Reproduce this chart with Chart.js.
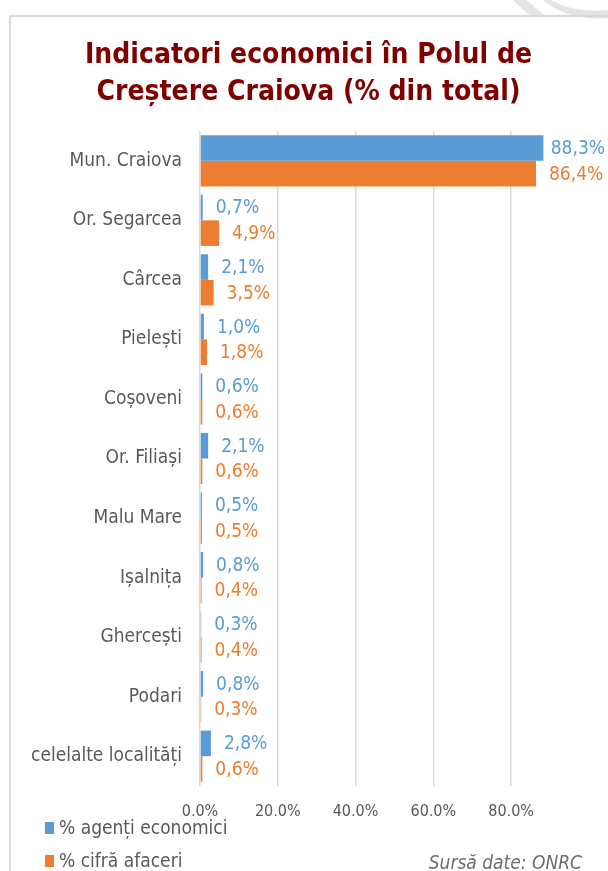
<!DOCTYPE html>
<html lang="ro">
<head>
<meta charset="utf-8">
<title>Indicatori economici în Polul de Creștere Craiova</title>
<script src="https://cdn.jsdelivr.net/npm/chart.js@4.4.0/dist/chart.umd.min.js"></script>
<style>
  html, body { margin: 0; padding: 0; background: #fff; }
  #wrap { position: relative; width: 608px; height: 871px; overflow: hidden; }
  #frame { position: absolute; left: 9px; top: 15px; width: 700px; height: 900px;
           border-left: 2px solid #d9d9d9; border-top: 2px solid #d9d9d9; }
  #deco { position: absolute; left: 0; top: 0; }
  canvas { position: absolute; left: 0; top: 0; }
</style>
</head>
<body>
<div id="wrap">
  <svg id="deco" width="608" height="20">
    <path d="M508,-4 L522,-4 L545,16 L531,16 Z" fill="#e4e4e4"/>
    <path d="M545,-4 Q570,14 608,10 L608,18 Q566,22 538,-4 Z" fill="#e4e4e4"/>
  </svg>
  <div id="frame"></div>
  <canvas id="barChart" width="608" height="871"></canvas>
</div>
<script>
// Indicatori pe localități (% din total)
const localitati = ['Mun. Craiova', 'Or. Segarcea', 'Cârcea', 'Pielești', 'Coșoveni', 'Or. Filiași',
                    'Malu Mare', 'Ișalnița', 'Ghercești', 'Podari', 'celelalte localități'];
const agentiEconomici = [88.3, 0.7, 2.1, 1.0, 0.6, 2.1, 0.5, 0.8, 0.3, 0.8, 2.8];
const cifraAfaceri = [86.4, 4.9, 3.5, 1.8, 0.6, 0.6, 0.5, 0.4, 0.4, 0.3, 0.6];
const axaProcente = [0, 20, 40, 60, 80];

const FONT = '"DejaVu Sans Condensed", "DejaVu Sans", sans-serif';
const GRI = '#595959';

const fmt = v => v.toFixed(1).replace('.', ',') + '%';

// titlul, etichetele valorilor, legenda și sursa
const decor = {
    id: 'decor',
    afterDatasetsDraw(chart) {
        const ctx = chart.ctx;
        ctx.save();
        ctx.font = '19px ' + FONT;
        ctx.textBaseline = 'middle';
        ctx.textAlign = 'left';
        chart.data.datasets.forEach((ds, i) => {
            const meta = chart.getDatasetMeta(i);
            ctx.fillStyle = ds.backgroundColor;
            meta.data.forEach((bar, j) => {
                const txt = fmt(ds.data[j]);
                const w = ctx.measureText(txt).width;
                const x = Math.min(bar.x + 13, chart.width - 3 - w);
                ctx.fillText(txt, x, bar.y + 1);
            });
        });
        ctx.restore();
    },
    afterDraw(chart) {
        const ctx = chart.ctx;
        ctx.save();
        // titlu
        ctx.fillStyle = '#800000';
        ctx.font = 'bold 28px ' + FONT;
        ctx.textAlign = 'center';
        ctx.textBaseline = 'alphabetic';
        ctx.fillText('Indicatori economici în Polul de', 308.5, 63);
        ctx.fillText('Creștere Craiova (% din total)', 308.5, 100);

        // legenda
        ctx.font = '19px ' + FONT;
        ctx.textAlign = 'left';
        ctx.textBaseline = 'middle';
        chart.data.datasets.forEach((ds, i) => {
            const y = 828 + i * 33;
            ctx.fillStyle = ds.backgroundColor;
            ctx.fillRect(45, y - 6, 9, 12);
            ctx.fillStyle = GRI;
            ctx.fillText(ds.label, 59, y + 1);
        });

        // sursa datelor
        ctx.font = 'italic 19px ' + FONT;
        ctx.textAlign = 'right';
        ctx.fillStyle = '#6e6e6e';
        ctx.fillText('Sursă date: ONRC', 582, 864);
        ctx.restore();
    }
};

const ctxBar = document.getElementById('barChart').getContext('2d');
const barChart = new Chart(ctxBar, {
    type: 'bar',
    data: {
        labels: localitati,
        datasets: [{
            label: '% agenți economici',
            data: agentiEconomici,
            backgroundColor: '#5B9BD5'
        }, {
            label: '% cifră afaceri',
            data: cifraAfaceri,
            backgroundColor: '#ED7D31'
        }]
    },
    options: {
        indexAxis: 'y',
        responsive: false,
        animation: false,
        layout: {
            padding: { left: 10, right: 58, top: 131, bottom: 55 }
        },
        datasets: {
            bar: {
                categoryPercentage: 0.86,
                barPercentage: 1.0
            }
        },
        plugins: {
            legend: { display: false },
            title: { display: false },
            tooltip: { enabled: false }
        },
        scales: {
            x: {
                min: 0,
                max: 90,
                afterBuildTicks: scale => {
                    scale.ticks = axaProcente.map(v => ({ value: v }));
                },
                afterFit: scale => { scale.height = 30; },
                grid: {
                    color: '#d9d9d9',
                    lineWidth: 1.5,
                    drawTicks: false
                },
                border: { display: false },
                ticks: {
                    callback: v => fmt(v),
                    color: GRI,
                    padding: 16,
                    font: { family: FONT, size: 16 }
                }
            },
            y: {
                afterFit: scale => { scale.width = 190; },
                grid: { display: false, drawTicks: false },
                border: { display: false },
                ticks: {
                    color: GRI,
                    padding: 18,
                    font: { family: FONT, size: 19 }
                }
            }
        }
    },
    plugins: [decor]
});
</script>
</body>
</html>
